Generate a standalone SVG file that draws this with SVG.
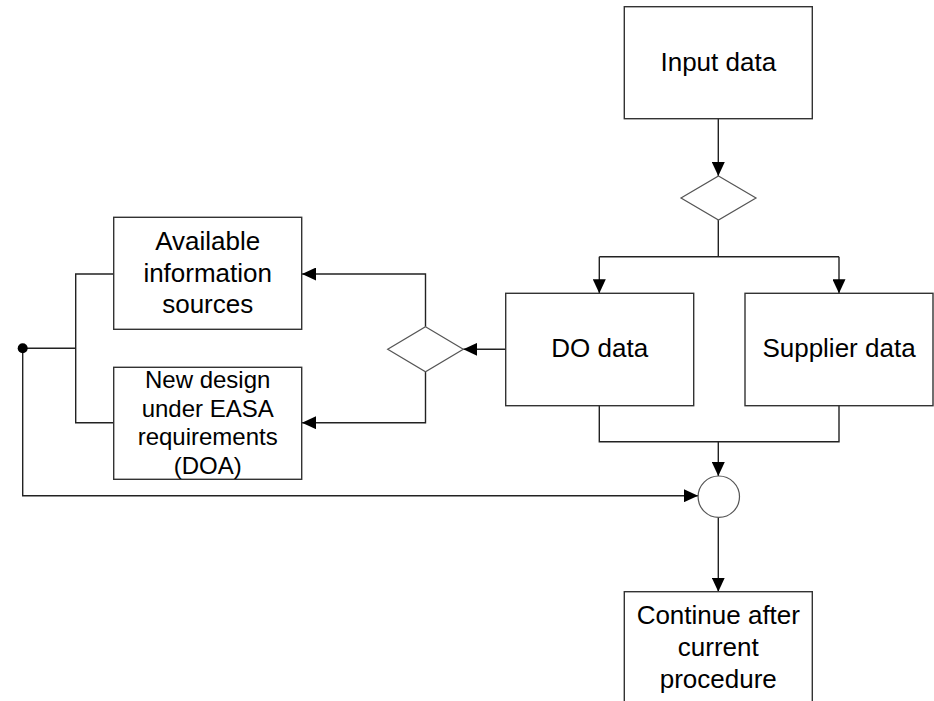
<svg xmlns="http://www.w3.org/2000/svg" width="934" height="701" viewBox="0 0 934 701">
<defs>
<marker id="arr" markerUnits="userSpaceOnUse" markerWidth="14" markerHeight="13" refX="14" refY="6.5" orient="auto">
<path d="M0,0 L14,6.5 L0,13 z" fill="#000"/>
</marker>
<style>
.box{fill:#fff;stroke:#333;stroke-width:1.4}
.shape{fill:#fff;stroke:#555;stroke-width:1.2}
.ln{fill:none;stroke:#222;stroke-width:1.4}
.arr{fill:none;stroke:#222;stroke-width:1.4;marker-end:url(#arr)}
text{font-family:"Liberation Sans",Arial,sans-serif;fill:#000;text-anchor:middle}
.t26{font-size:26px}
.t24{font-size:24px}
</style>
</defs>
<rect width="934" height="701" fill="#fff"/>
<g id="connectors">
<path class="arr" d="M718.3,119 V176"/>
<path class="ln" d="M718.3,220 V256.7 M599.3,256.7 H839"/>
<path class="arr" d="M599.3,256.7 V293.3"/>
<path class="arr" d="M839,256.7 V293.3"/>
<path class="arr" d="M506,349.3 H463.3"/>
<path class="arr" d="M425.5,326.7 V274 H302"/>
<path class="arr" d="M425.5,371.7 V422.7 H302"/>
<path class="ln" d="M114,274 H75.7 V422.7 H114 M75.7,348.3 H22.7"/>
<path class="arr" d="M22.7,348.3 V495.7 H698"/>
<path class="ln" d="M599.3,405.7 V441.7 H839 V405.7"/>
<path class="arr" d="M718.3,441.7 V476"/>
<path class="arr" d="M718.3,517.3 V591.7"/>
</g>
<g id="input-data">
<rect class="box" x="624.3" y="6.7" width="188" height="112"/>
<text class="t26" x="718.3" y="71">Input data</text>
</g>
<g id="split-diamond">
<path class="shape" d="M718.5,176 L756,198 L718.5,220 L681,198 z"/>
</g>
<g id="do-data">
<rect class="box" x="505.7" y="293.3" width="188" height="112.4"/>
<text class="t26" x="599.7" y="357">DO data</text>
</g>
<g id="supplier-data">
<rect class="box" x="745" y="293.3" width="188" height="112.4"/>
<text class="t26" x="839" y="357">Supplier data</text>
</g>
<g id="choice-diamond">
<path class="shape" d="M425.5,326.7 L463.3,349.3 L425.5,371.7 L387.7,349.3 z"/>
</g>
<g id="available-sources">
<rect class="box" x="113.7" y="217.3" width="188" height="112"/>
<text class="t26" x="207.7" y="250">Available</text>
<text class="t26" x="207.7" y="281.5">information</text>
<text class="t26" x="207.7" y="313">sources</text>
</g>
<g id="new-design">
<rect class="box" x="113.7" y="367.3" width="188" height="112"/>
<text class="t24" x="207.7" y="388">New design</text>
<text class="t24" x="207.7" y="416.5">under EASA</text>
<text class="t24" x="207.7" y="445">requirements</text>
<text class="t24" x="207.7" y="473.5">(DOA)</text>
</g>
<g id="junction-dot">
<circle cx="22.7" cy="348.3" r="5" fill="#000"/>
</g>
<g id="merge-circle">
<circle class="shape" cx="718.8" cy="496.7" r="20.7"/>
</g>
<g id="continue">
<rect class="box" x="624.3" y="591.7" width="188" height="140"/>
<text class="t26" x="718.3" y="623.5">Continue after</text>
<text class="t26" x="718.3" y="655.5">current</text>
<text class="t26" x="718.3" y="687.5">procedure</text>
</g>
</svg>
